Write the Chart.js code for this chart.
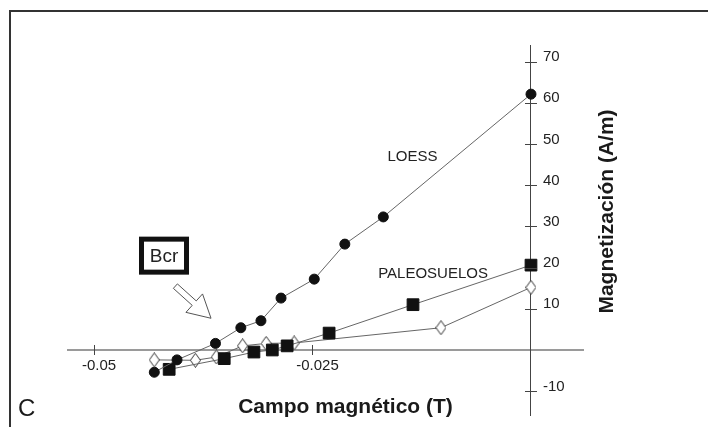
<!DOCTYPE html>
<html><head><meta charset="utf-8">
<script src="https://cdn.jsdelivr.net/npm/chart.js@4.4.1/dist/chart.umd.min.js"></script>
<style>html,body{margin:0;padding:0;background:#fff;}canvas{display:block;}</style>
</head><body>
<canvas id="c" width="708" height="427"></canvas>
<script>
// ---- data ----
const loessField = [-0.0431, -0.0405, -0.0361, -0.0332, -0.0309, -0.0286, -0.0248, -0.0213, -0.0169, 0];
const loessMag   = [-5.4, -2.4, 1.6, 5.4, 7.1, 12.6, 17.2, 25.7, 32.3, 62.1];
const paleoField = [-0.0414, -0.0351, -0.0317, -0.0296, -0.0279, -0.0231, -0.0135, 0];
const paleoMag   = [-4.7, -2.1, -0.5, 0.0, 1.0, 4.1, 11.0, 20.6];
const paleo2Field = [-0.0431, -0.0384, -0.0360, -0.0330, -0.0303, -0.0271, -0.0103, 0];
const paleo2Mag   = [-2.4, -2.5, -1.7, 1.0, 1.6, 1.7, 5.4, 15.2];
const xTickValues = [-0.05, -0.025];
const xTickLabels = ['-0.05', '-0.025'];
const yTickValues = [-10, 10, 20, 30, 40, 50, 60, 70];
const yTickLabels = ['-10', '10', '20', '30', '40', '50', '60', '70'];
const xTitle = 'Campo magnético (T)';
const yTitle = 'Magnetización (A/m)';
const panelLetter = 'C';
const loessLabel = 'LOESS';
const paleoLabel = 'PALEOSUELOS';
const bcrLabel = 'Bcr';

const FONT = '"Liberation Sans", Arial, Helvetica, sans-serif';
const toPts = (xs, ys) => xs.map((x, i) => ({x, y: ys[i]}));

function diamondImg() {
  const c = document.createElement('canvas');
  c.width = 11; c.height = 15;
  const g = c.getContext('2d');
  g.beginPath();
  g.moveTo(5.5, 0.5); g.lineTo(10.5, 7.5); g.lineTo(5.5, 14.5); g.lineTo(0.5, 7.5);
  g.closePath();
  g.fillStyle = '#fff'; g.fill();
  g.strokeStyle = '#333'; g.lineWidth = 1; g.stroke();
  return c;
}

const decor = {
  id: 'decor',
  beforeDraw(chart) {
    const ctx = chart.ctx;
    ctx.save();
    ctx.fillStyle = '#fff';
    ctx.fillRect(0, 0, chart.width, chart.height);
    ctx.restore();
  },
  afterDraw(chart) {
    const ctx = chart.ctx;
    const xs = chart.scales.x, ys = chart.scales.y;
    const x0 = xs.getPixelForValue(0), y0 = ys.getPixelForValue(0);
    ctx.save();
    // tick marks crossing the axes
    ctx.strokeStyle = '#444';
    ctx.lineWidth = 1;
    ctx.beginPath();
    xs.ticks.forEach(t => {
      const px = Math.round(xs.getPixelForValue(t.value)) + 0.5;
      ctx.moveTo(px, y0 - 5); ctx.lineTo(px, y0 + 5);
    });
    ys.ticks.forEach(t => {
      const py = Math.round(ys.getPixelForValue(t.value)) + 0.5;
      ctx.moveTo(x0 - 6, py); ctx.lineTo(x0 + 6, py);
    });
    ctx.stroke();
    // y tick labels, right of the vertical axis
    ctx.fillStyle = '#222';
    ctx.font = '15px ' + FONT;
    ctx.textAlign = 'left';
    ctx.textBaseline = 'middle';
    ys.ticks.forEach((t, i) => {
      const py = ys.getPixelForValue(t.value);
      ctx.fillText(yTickLabels[yTickValues.indexOf(t.value)], x0 + 12, py - 4.5);
    });
    // series labels
    ctx.textAlign = 'center';
    ctx.fillText(loessLabel, xs.getPixelForValue(-0.01356), ys.getPixelForValue(46.8));
    ctx.fillText(paleoLabel, xs.getPixelForValue(-0.01121), ys.getPixelForValue(18.4));
    // Bcr box
    const bx = xs.getPixelForValue(-0.04199), by = ys.getPixelForValue(22.9);
    ctx.fillStyle = '#111';
    ctx.fillRect(bx - 25, by - 19, 50, 38);
    ctx.fillStyle = '#fff';
    ctx.fillRect(bx - 20, by - 14, 40, 28);
    ctx.fillStyle = '#222';
    ctx.font = '19px ' + FONT;
    ctx.fillText(bcrLabel, bx, by + 1);
    // hollow arrow
    const tx = xs.getPixelForValue(-0.04069), ty = ys.getPixelForValue(15.5);
    const hx = xs.getPixelForValue(-0.03661), hy = ys.getPixelForValue(7.7);
    const dx = hx - tx, dy = hy - ty, L = Math.hypot(dx, dy);
    const ux = dx / L, uy = dy / L, nx = -uy, ny = ux;
    const P = (s, t) => [tx + ux * s + nx * t, ty + uy * s + ny * t];
    const pts = [P(0, -3), P(L - 22.6, -3), P(L - 22.6, -12.4), P(L, 0), P(L - 22.6, 12.4), P(L - 22.6, 3), P(0, 3)];
    ctx.beginPath();
    pts.forEach((p, i) => i ? ctx.lineTo(p[0], p[1]) : ctx.moveTo(p[0], p[1]));
    ctx.closePath();
    ctx.fillStyle = '#fff'; ctx.fill();
    ctx.strokeStyle = '#555'; ctx.lineWidth = 1; ctx.stroke();
    // axis titles
    ctx.fillStyle = '#1a1a1a';
    ctx.font = 'bold 21px ' + FONT;
    ctx.textAlign = 'center';
    ctx.textBaseline = 'alphabetic';
    ctx.fillText(xTitle, 345.5, 413);
    ctx.save();
    ctx.translate(607, 211.5);
    ctx.rotate(-Math.PI / 2);
    ctx.textBaseline = 'middle';
    ctx.fillText(yTitle, 0, 0);
    ctx.restore();
    // panel letter
    ctx.font = '24px ' + FONT;
    ctx.textAlign = 'left';
    ctx.fillText(panelLetter, 18, 416);
    // frame
    ctx.strokeStyle = '#333';
    ctx.lineWidth = 2;
    ctx.beginPath();
    ctx.moveTo(10, 430); ctx.lineTo(10, 11); ctx.lineTo(710, 11);
    ctx.stroke();
    ctx.restore();
  }
};

new Chart(document.getElementById('c'), {
  type: 'scatter',
  data: {
    datasets: [
      {
        label: loessLabel,
        data: toPts(loessField, loessMag),
        showLine: true,
        borderColor: '#666', borderWidth: 1,
        pointStyle: 'circle', pointRadius: 5, pointHoverRadius: 5,
        pointBackgroundColor: '#111', pointBorderColor: '#111', pointBorderWidth: 1,
        clip: false
      },
      {
        label: paleoLabel,
        data: toPts(paleoField, paleoMag),
        showLine: true,
        borderColor: '#666', borderWidth: 1,
        pointStyle: 'rect', pointRadius: 8.3, pointHoverRadius: 8.3,
        pointBackgroundColor: '#111', pointBorderColor: '#111', pointBorderWidth: 1,
        clip: false
      },
      {
        label: paleoLabel + ' 2',
        data: toPts(paleo2Field, paleo2Mag),
        showLine: true,
        borderColor: '#666', borderWidth: 1,
        pointStyle: diamondImg(), pointRadius: 6,
        clip: false
      }
    ]
  },
  options: {
    responsive: false,
    devicePixelRatio: 1,
    animation: false,
    events: [],
    layout: { padding: { left: 68, right: 125, top: 45, bottom: 12 } },
    plugins: { legend: { display: false }, tooltip: { enabled: false } },
    scales: {
      x: {
        type: 'linear',
        position: { y: 0 },
        min: -0.052975, max: 0.00595,
        afterBuildTicks: s => { s.ticks = xTickValues.map(v => ({ value: v })); },
        afterFit: s => { s.height = 0; },
        grid: { display: false, drawTicks: false },
        border: { display: true, color: '#9a9a9a', width: 2 },
        ticks: {
          padding: 7, labelOffset: 5,
          color: '#222', font: { family: FONT, size: 15 },
          maxRotation: 0, autoSkip: false,
          callback: v => xTickLabels[xTickValues.indexOf(v)]
        }
      },
      y: {
        type: 'linear',
        position: { x: 0 },
        min: -15.78, max: 74.03,
        afterBuildTicks: s => { s.ticks = yTickValues.map(v => ({ value: v })); },
        afterFit: s => { s.width = 0; },
        grid: { display: false, drawTicks: false },
        border: { display: true, color: '#444', width: 1 },
        ticks: { display: false }
      }
    }
  },
  plugins: [decor]
});
</script>
</body></html>
